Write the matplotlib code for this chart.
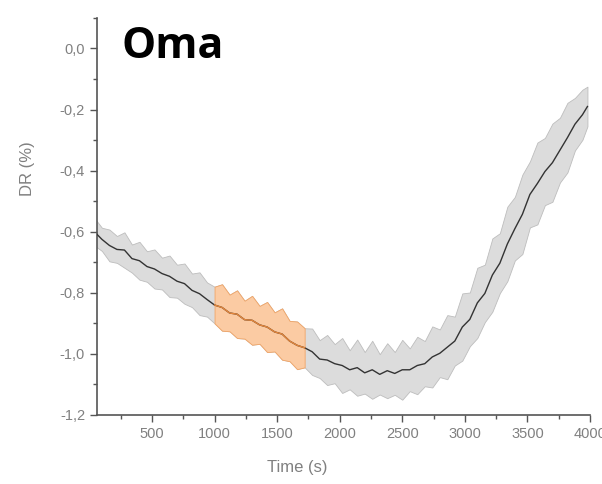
import matplotlib
matplotlib.use("Agg")
import matplotlib.pyplot as plt
from matplotlib.ticker import MultipleLocator, FuncFormatter
import numpy as np

# time grid (s)
time = list(range(40, 3941, 60)) + [3980]

# mean DR (%)
dr_mean = [
    -0.600, -0.625, -0.645, -0.658, -0.660, -0.688, -0.695, -0.714, -0.722, -0.737,
    -0.746, -0.762, -0.770, -0.792, -0.803, -0.822, -0.840, -0.848, -0.866, -0.870,
    -0.888, -0.890, -0.905, -0.912, -0.928, -0.935, -0.958, -0.972, -0.980, -0.993,
    -1.017, -1.020, -1.032, -1.038, -1.052, -1.045, -1.062, -1.052, -1.067, -1.055,
    -1.064, -1.052, -1.052, -1.038, -1.032, -1.010, -0.998, -0.978, -0.958, -0.912,
    -0.887, -0.833, -0.802, -0.742, -0.703, -0.640, -0.590, -0.543, -0.478, -0.442,
    -0.403, -0.374, -0.333, -0.292, -0.248, -0.217, -0.190,
]

# half-width of the shaded band
dr_err = [
    0.045, 0.038, 0.052, 0.044, 0.058, 0.046, 0.062, 0.050, 0.064, 0.052,
    0.068, 0.054, 0.066, 0.055, 0.070, 0.056, 0.060, 0.076, 0.060, 0.078,
    0.062, 0.080, 0.062, 0.082, 0.064, 0.084, 0.066, 0.078, 0.064, 0.076,
    0.062, 0.082, 0.064, 0.090, 0.064, 0.092, 0.068, 0.095, 0.066, 0.090,
    0.070, 0.098, 0.070, 0.094, 0.074, 0.100, 0.078, 0.105, 0.080, 0.110,
    0.088, 0.115, 0.094, 0.120, 0.098, 0.122, 0.104, 0.130, 0.108, 0.134,
    0.110, 0.128, 0.106, 0.114, 0.086, 0.082, 0.065,
]

# highlighted interval
hl_start, hl_end = 1000, 1720

t = np.array(time)
m = np.array(dr_mean)
e = np.array(dr_err)

fig = plt.figure(figsize=(6.02, 4.84), dpi=100)
ax = fig.add_axes([0.161, 0.1426, 0.819, 0.8204])

ax.fill_between(t, m - e, m + e, color="#dcdcdc", edgecolor="#bdbdbd", linewidth=0.6, zorder=1)
ax.plot(t, m, color="#333333", lw=1.0, zorder=3)

sel = (t >= hl_start) & (t <= hl_end)
ax.fill_between(t[sel], m[sel] - e[sel], m[sel] + e[sel], color="#fbcba3",
                edgecolor="#f2a566", linewidth=0.6, zorder=2)
ax.plot(t[sel], m[sel], color="#e5863a", lw=1.0, zorder=4)

ax.set_xlim(60, 4000)
ax.set_ylim(-1.2, 0.1)

ax.xaxis.set_major_locator(MultipleLocator(500))
ax.xaxis.set_minor_locator(MultipleLocator(250))
ax.yaxis.set_major_locator(MultipleLocator(0.2))
ax.yaxis.set_minor_locator(MultipleLocator(0.1))
ax.yaxis.set_major_formatter(FuncFormatter(lambda v, p: f"{v:.1f}".replace(".", ",").replace("-0,0", "0,0")))

for s in ["top", "right"]:
    ax.spines[s].set_visible(False)
for s in ["left", "bottom"]:
    ax.spines[s].set_color("#555555")
    ax.spines[s].set_linewidth(1.2)

ax.tick_params(which="major", direction="out", length=5, width=1, color="#555555",
               labelcolor="#808080", labelsize=10.5)
ax.tick_params(which="minor", direction="out", length=3, width=1, color="#555555")
for lab in ax.get_xticklabels() + ax.get_yticklabels():
    lab.set_family("Liberation Sans")

ax.set_xlabel("Time (s)", color="#808080", fontsize=12, family="Liberation Sans")
ax.set_ylabel("DR (%)", color="#808080", fontsize=12, family="Liberation Sans")
ax.xaxis.set_label_coords(0.406, -0.113)
ax.yaxis.set_label_coords(-0.126, 0.62)

ax.text(0.049, 0.982, "Oma", transform=ax.transAxes, fontsize=31, fontweight="bold",
        family="Open Sans", color="black", va="top", ha="left")

fig.savefig("out.png", dpi=100)
